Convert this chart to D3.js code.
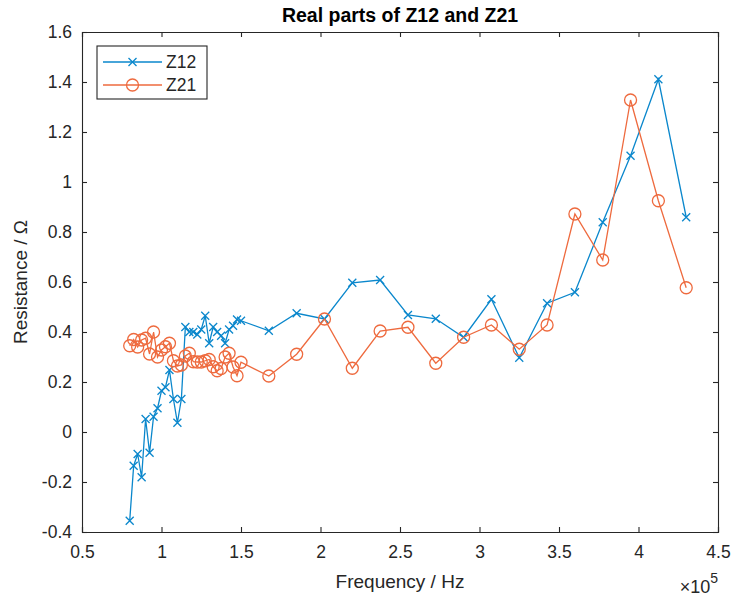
<!DOCTYPE html>
<html>
<head>
<meta charset="utf-8">
<script src="https://cdn.jsdelivr.net/npm/d3@7"></script>
<style>
  html, body { margin: 0; padding: 0; background: #fff; }
  svg { display: block; }
  text { font-family: "Liberation Sans", Arial, Helvetica, sans-serif; fill: #262626; }
</style>
</head>
<body>
<script>
// Measurement frequencies (Hz)
const freq = [80000, 82500, 85000, 87500, 90000, 92500, 95000, 97500, 100000, 102500,
  105000, 107500, 110000, 112500, 115000, 117500, 120000, 122500, 125000, 127500,
  130000, 132500, 135000, 137500, 140000, 142500, 145000, 147500, 150000,
  167500, 185000, 202500, 220000, 237500, 255000, 272500, 290000, 307500, 325000,
  342500, 360000, 377500, 395000, 412500, 430000];

// Real part of Z12 (Ω)
const z12 = [-0.355, -0.135, -0.088, -0.181, 0.052, -0.083, 0.061, 0.095, 0.165, 0.179,
  0.248, 0.132, 0.037, 0.132, 0.42, 0.40, 0.40, 0.39, 0.41, 0.465,
  0.355, 0.42, 0.40, 0.385, 0.355, 0.41, 0.425, 0.45, 0.445,
  0.405, 0.475, 0.452, 0.597, 0.608, 0.468, 0.453, 0.379, 0.531, 0.297,
  0.515, 0.559, 0.839, 1.105, 1.411, 0.859];

// Real part of Z21 (Ω)
const z21 = [0.345, 0.37, 0.34, 0.368, 0.375, 0.312, 0.40, 0.30, 0.328, 0.341,
  0.355, 0.285, 0.264, 0.268, 0.304, 0.315, 0.281, 0.28, 0.28, 0.285,
  0.29, 0.261, 0.245, 0.254, 0.30, 0.315, 0.26, 0.225, 0.279,
  0.224, 0.311, 0.452, 0.255, 0.404, 0.419, 0.275, 0.379, 0.428, 0.331,
  0.428, 0.872, 0.688, 1.328, 0.925, 0.577];

const xTicks = [50000, 100000, 150000, 200000, 250000, 300000, 350000, 400000, 450000];
const yTicks = [-0.4, -0.2, 0, 0.2, 0.4, 0.6, 0.8, 1, 1.2, 1.4, 1.6];
const seriesNames = ["Z12", "Z21"];
const colors = ["#0a87cc", "#ee6a3e"];

const W = 734, H = 598;
const margin = { left: 82, right: 16, top: 32, bottom: 66 };
const axisColor = "#262626";

const svg = d3.select("body").append("svg").attr("width", W).attr("height", H);

const x = d3.scaleLinear().domain([50000, 450000]).range([margin.left, W - margin.right]);
const y = d3.scaleLinear().domain([-0.4, 1.6]).range([H - margin.bottom, margin.top]);

const x0 = x.range()[0], x1 = x.range()[1], y0 = y.range()[0], y1 = y.range()[1];

// Axes (ticks point inward, box on all four sides)
const fmtX = d => String(d / 1e5);
const fmtY = d => String(Math.round(d * 10) / 10);

const gx = svg.append("g").attr("transform", `translate(0,${y0})`)
  .call(d3.axisBottom(x).tickValues(xTicks).tickSize(-5).tickPadding(14).tickFormat(fmtX));
const gxTop = svg.append("g").attr("transform", `translate(0,${y1})`)
  .call(d3.axisTop(x).tickValues(xTicks).tickSize(-5).tickFormat(""));
const gy = svg.append("g").attr("transform", `translate(${x0},0)`)
  .call(d3.axisLeft(y).tickValues(yTicks).tickSize(-5).tickPadding(10).tickFormat(fmtY));
const gyRight = svg.append("g").attr("transform", `translate(${x1},0)`)
  .call(d3.axisRight(y).tickValues(yTicks).tickSize(-5).tickFormat(""));

[gx, gxTop, gy, gyRight].forEach(g => {
  g.select(".domain").attr("stroke", axisColor).attr("stroke-width", 1.1);
  g.selectAll(".tick line").attr("stroke", axisColor).attr("stroke-width", 1.1);
  g.selectAll(".tick text").attr("fill", axisColor)
    .style("font-family", '"Liberation Sans", Arial, sans-serif').style("font-size", "17.5px");
});

// Data series
const pts = i => freq.map((f, k) => [f, i === 0 ? z12[k] : z21[k]]);
const line = d3.line().x(d => x(d[0])).y(d => y(d[1]));

function drawCross(g, cx, cy, s, color) {
  g.append("path")
    .attr("d", `M${cx - s},${cy - s}L${cx + s},${cy + s}M${cx - s},${cy + s}L${cx + s},${cy - s}`)
    .attr("stroke", color).attr("stroke-width", 1.3).attr("fill", "none");
}
function drawCircle(g, cx, cy, r, color) {
  g.append("circle").attr("cx", cx).attr("cy", cy).attr("r", r)
    .attr("stroke", color).attr("stroke-width", 1.3).attr("fill", "none");
}

seriesNames.forEach((name, i) => {
  const g = svg.append("g");
  const data = pts(i);
  g.append("path").datum(data).attr("d", line)
    .attr("fill", "none").attr("stroke", colors[i]).attr("stroke-width", 1.3);
  data.forEach(d => {
    if (i === 0) drawCross(g, x(d[0]), y(d[1]), 4, colors[i]);
    else drawCircle(g, x(d[0]), y(d[1]), 6, colors[i]);
  });
});

// Title and axis labels
svg.append("text").attr("x", (x0 + x1) / 2).attr("y", 22)
  .attr("text-anchor", "middle").style("font-size", "19.5px").style("font-weight", "bold")
  .style("fill", "#000")
  .text("Real parts of Z12 and Z21");

svg.append("text").attr("x", (x0 + x1) / 2).attr("y", 588)
  .attr("text-anchor", "middle").style("font-size", "19px")
  .text("Frequency / Hz");

svg.append("text")
  .attr("transform", `translate(27,${(y0 + y1) / 2}) rotate(-90)`)
  .attr("text-anchor", "middle").style("font-size", "19px")
  .text("Resistance / Ω");

// Exponent marker for the x axis
const expo = svg.append("text").attr("x", x1).attr("y", 593).attr("text-anchor", "end")
  .style("font-size", "18px");
expo.append("tspan").text("×10");
expo.append("tspan").attr("dy", -10).style("font-size", "14px").text("5");

// Legend
const lg = svg.append("g").attr("transform", "translate(97,46)");
lg.append("rect").attr("width", 110).attr("height", 53)
  .attr("fill", "#fff").attr("stroke", axisColor).attr("stroke-width", 1.1);
seriesNames.forEach((name, i) => {
  const ly = 16 + i * 23;
  lg.append("line").attr("x1", 6).attr("x2", 65).attr("y1", ly).attr("y2", ly)
    .attr("stroke", colors[i]).attr("stroke-width", 1.3);
  if (i === 0) drawCross(lg, 35.5, ly, 4, colors[i]);
  else drawCircle(lg, 35.5, ly, 6, colors[i]);
  lg.append("text").attr("x", 69).attr("y", ly + 6).style("font-size", "17.5px").text(name);
});
</script>
</body>
</html>
